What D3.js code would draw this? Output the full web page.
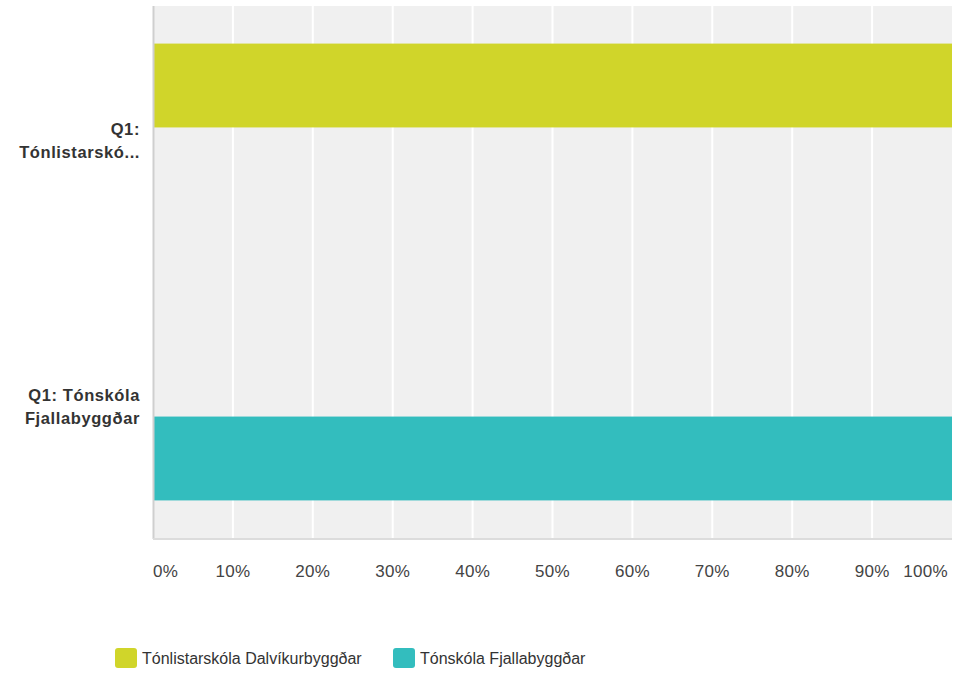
<!DOCTYPE html>
<html>
<head>
<meta charset="utf-8">
<script src="https://cdn.jsdelivr.net/npm/d3@7"></script>
<style>
  body { margin: 0; background: #fff; font-family: "Liberation Sans", Arial, sans-serif; }
</style>
</head>
<body>
<div id="chart"></div>
<script>
// categories (row labels, already wrapped as in the picture)
var categories = ["Q1: Tónlistarskó...", "Q1: Tónskóla Fjallabyggðar"];
var categoryLines = [["Q1:", "Tónlistarskó..."], ["Q1: Tónskóla", "Fjallabyggðar"]];
// series
var seriesNames = ["Tónlistarskóla Dalvíkurbyggðar", "Tónskóla Fjallabyggðar"];
var seriesColors = ["#d0d52a", "#33bdbe"];
// percent per category, one list per series
var dalvikValues = [100, 0];
var fjallaValues = [0, 100];
var xTicks = [0, 10, 20, 30, 40, 50, 60, 70, 80, 90, 100];

var width = 956,
    height = 673,
    plotLeft = 153,
    plotRight = 952,
    plotTop = 6,
    plotBottom = 538;

var svg = d3.select("#chart").append("svg")
    .attr("width", width)
    .attr("height", height);

var x = d3.scaleLinear().domain([0, 100]).range([plotLeft, plotRight]);

// group band for bars, plain band for labels
var y0 = d3.scaleBand().domain(categories).range([plotTop, plotBottom])
    .paddingInner(0.42).paddingOuter(0.13);
var yLabel = d3.scaleBand().domain(categories).range([plotTop, plotBottom]);
var y1 = d3.scaleBand().domain(seriesNames).range([0, y0.bandwidth()]);

var series = [
    {name: seriesNames[0], color: seriesColors[0], values: dalvikValues},
    {name: seriesNames[1], color: seriesColors[1], values: fjallaValues}
];

// background
svg.append("rect")
    .attr("x", plotLeft).attr("y", plotTop)
    .attr("width", plotRight - plotLeft).attr("height", plotBottom - plotTop)
    .attr("fill", "#f0f0f0");

// gridlines
svg.append("g").selectAll("line")
    .data(xTicks.slice(1, -1))
    .enter().append("line")
    .attr("x1", function(d) { return x(d); })
    .attr("x2", function(d) { return x(d); })
    .attr("y1", plotTop).attr("y2", plotBottom)
    .attr("stroke", "#fff")
    .attr("stroke-width", 2);

// bars
series.forEach(function(s) {
    svg.append("g").selectAll("rect")
        .data(categories)
        .enter().append("rect")
        .attr("x", x(0))
        .attr("y", function(c) { return y0(c) + y1(s.name); })
        .attr("width", function(c, i) { return x(s.values[i]) - x(0); })
        .attr("height", y1.bandwidth())
        .attr("fill", s.color);
});

// axis lines
svg.append("line")
    .attr("x1", plotLeft + 0.5).attr("x2", plotLeft + 0.5)
    .attr("y1", plotTop).attr("y2", plotBottom + 1)
    .attr("stroke", "#cfcfcf").attr("stroke-width", 2);
svg.append("line")
    .attr("x1", plotLeft).attr("x2", plotRight)
    .attr("y1", plotBottom + 1).attr("y2", plotBottom + 1)
    .attr("stroke", "#dcdcdc").attr("stroke-width", 2);

// x tick labels
svg.append("g").selectAll("text")
    .data(xTicks)
    .enter().append("text")
    .attr("x", function(d) { return d === 100 ? x(d) - 4 : x(d); })
    .attr("y", 577)
    .attr("text-anchor", function(d, i) {
        return i === 0 ? "start" : (d === 100 ? "end" : "middle");
    })
    .attr("fill", "#444")
    .style("font-size", "17px")
    .style("letter-spacing", "0.3px")
    .text(function(d) { return d + "%"; });

// category labels
var lab = svg.append("g").selectAll("text")
    .data(categories)
    .enter().append("text")
    .attr("text-anchor", "end")
    .attr("fill", "#333")
    .style("font-size", "16.5px")
    .style("font-weight", "bold")
    .style("letter-spacing", "0.6px");
lab.each(function(c, i) {
    var lines = categoryLines[i];
    var cy = yLabel(c) + yLabel.bandwidth() / 2;
    d3.select(this).selectAll("tspan")
        .data(lines)
        .enter().append("tspan")
        .attr("x", 140)
        .attr("y", function(d, j) { return cy + 2 + (j - (lines.length - 1) / 2) * 23 + 5; })
        .text(function(d) { return d; });
});

// legend
var legendX = [115, 393];
var legend = svg.append("g").selectAll("g")
    .data(series)
    .enter().append("g")
    .attr("transform", function(d, i) { return "translate(" + legendX[i] + ",648)"; });
legend.append("rect")
    .attr("width", 22).attr("height", 20)
    .attr("rx", 3)
    .attr("fill", function(d) { return d.color; });
legend.append("text")
    .attr("x", 27).attr("y", 16)
    .attr("fill", "#333")
    .style("font-size", "16px")
    .text(function(d) { return d.name; });
</script>
</body>
</html>
